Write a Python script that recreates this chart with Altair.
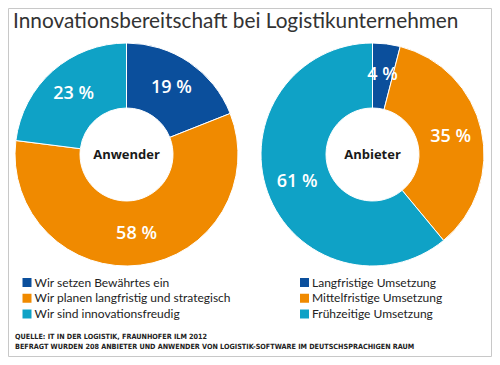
import math
import altair as alt
import pandas as pd

# ---------------- data ----------------
groups = ["Anwender", "Anbieter"]
categories = [0, 1, 2]
anwender_values = [19, 58, 23]
anbieter_values = [4, 35, 61]
legend_left = ["Wir setzen Bewährtes ein", "Wir planen langfristig und strategisch", "Wir sind innovationsfreudig"]
legend_right = ["Langfristige Umsetzung", "Mittelfristige Umsetzung", "Frühzeitige Umsetzung"]
title_text = "Innovationsbereitschaft bei Logistikunternehmen"
source_lines = [
    "QUELLE: IT IN DER LOGISTIK, FRAUNHOFER ILM 2012",
    "BEFRAGT WURDEN 208 ANBIETER UND ANWENDER VON LOGISTIK-SOFTWARE IM DEUTSCHSPRACHIGEN RAUM",
]
colors = ["#0b4f9c", "#f08a00", "#0fa2c6"]

rows = []
for gi, (g, vals) in enumerate(zip(groups, [anwender_values, anbieter_values])):
    for k, v in zip(categories, vals):
        rows.append({"group": g, "gi": gi, "key": k, "value": v, "label": f"{v} %"})
pie_df = pd.DataFrame(rows)

leg_rows = []
for col, labels in enumerate([legend_left, legend_right]):
    for r, lab in enumerate(labels):
        leg_rows.append({"col": col, "row": r, "key": r, "label": lab})
leg_df = pd.DataFrame(leg_rows)

W, H = 484, 349
FONT = "Open Sans"

x_group = alt.X("gi:Q", scale=alt.Scale(domain=[0, 1], range=[118.5, 364.5]), axis=None, stack=None)
y_center = alt.value(146.5)
theta_scale = alt.Scale(domain=[0, 100], range=[0, 2 * math.pi])
color_enc = alt.Color("key:N", scale=alt.Scale(domain=categories, range=colors), legend=None)

base_pie = alt.Chart(pie_df).transform_stack(
    stack="value", groupby=["group"], as_=["v0", "v1"], sort=[alt.SortField("key")]
).transform_calculate(mid="(datum.v0 + datum.v1) / 2")

arcs = base_pie.mark_arc(outerRadius=111.5, innerRadius=46.5, stroke="white", strokeWidth=1).encode(
    x=x_group,
    y=y_center,
    theta=alt.Theta("v0:Q", scale=theta_scale, stack=None),
    theta2="v1:Q",
    color=color_enc,
)

pct = base_pie.mark_text(
    font=FONT, fontSize=18, fontWeight=600, color="white", align="center", baseline="middle"
).encode(
    x=x_group,
    y=y_center,
    theta=alt.Theta("mid:Q", scale=theta_scale, stack=None),
    radius=alt.value(80),
    text="label:N",
)

center_lbl = alt.Chart(pd.DataFrame({"group": groups, "gi": [0, 1]})).mark_text(
    font=FONT, fontSize=13, fontWeight="bold", color="#1a1a1a", align="center", baseline="middle"
).encode(x=x_group, y=y_center, text="group:N")

title = alt.Chart(pd.DataFrame({"t": [title_text]})).mark_text(
    font="Lato", fontSize=20.8, color="#333333", align="left", baseline="middle"
).encode(x=alt.value(5), y=alt.value(14), text="t:N")

leg_x = alt.X("col:Q", scale=alt.Scale(domain=[0, 1], range=[19, 296.5]), axis=None)
leg_y = alt.Y("row:Q", scale=alt.Scale(domain=[0, 2], range=[274.5, 306]), axis=None)

leg_sq = alt.Chart(leg_df).mark_square(size=81, opacity=1).encode(
    x=leg_x, y=leg_y, color=color_enc
)
leg_txt = alt.Chart(leg_df).mark_text(
    font="Lato", fontSize=12, color="#222222", align="left", baseline="middle", dx=7.5
).encode(x=leg_x, y=leg_y, text="label:N")

src_df = pd.DataFrame({"i": [0, 1], "t": source_lines})
src = alt.Chart(src_df).mark_text(
    font="DejaVu Sans Condensed", fontSize=7.2, fontWeight="bold", color="#222222", align="left", baseline="middle"
).encode(
    x=alt.value(7),
    y=alt.Y("i:Q", scale=alt.Scale(domain=[0, 1], range=[329, 339]), axis=None),
    text="t:N",
)

frame = alt.Chart(pd.DataFrame({"a": [0]})).mark_rect(
    fill=None, stroke="#c8c8c8", strokeWidth=1
).encode(x=alt.value(0.5), x2=alt.value(W - 0.5), y=alt.value(0.5), y2=alt.value(H - 0.5))

chart = alt.layer(frame, arcs, pct, center_lbl, title, leg_sq, leg_txt, src).resolve_scale(
    x="independent", y="independent", color="independent", theta="independent"
).properties(
    width=W, height=H, padding=0, autosize=alt.AutoSizeParams(type="none")
).configure_view(stroke=None)

chart.save("out.html", embed_options={"renderer": "svg", "actions": False})
